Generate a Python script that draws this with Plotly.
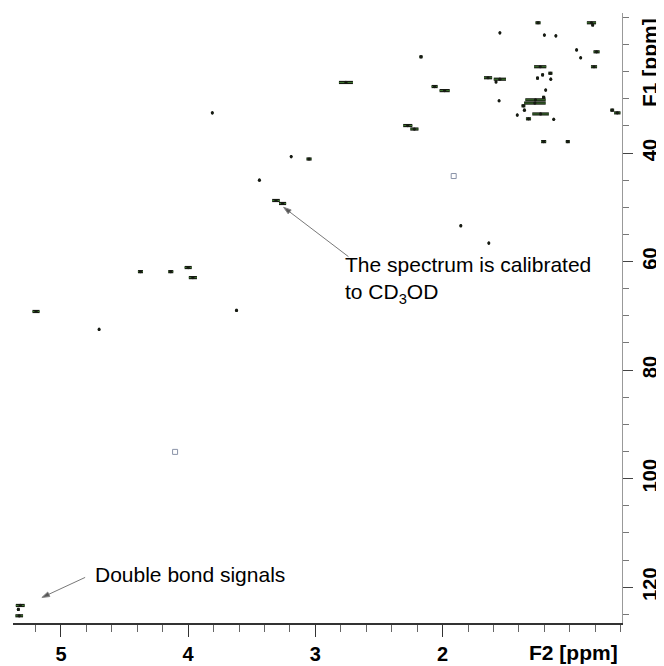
import plotly.graph_objects as go

# HSQC cross peaks: F2 (1H, ppm), F1 (13C, ppm), half-width along F2 (ppm)
peak_f2 = [1.25, 0.83, 0.82, 1.55, 1.20, 1.11, 0.947, 0.79, 0.915, 2.17,
           1.233, 0.81, 1.153, 1.214, 1.254, 1.15, 1.643, 1.55, 1.58, 2.76,
           2.063, 1.984, 1.19, 1.556, 1.27, 1.275, 1.206, 1.365, 1.357, 1.413,
           1.23, 1.325, 1.127, 0.667, 0.627, 1.206, 1.016, 2.274, 2.222, 3.81,
           3.19, 3.05, 3.44, 3.31, 3.258, 1.857, 1.637, 4.375, 4.137, 4.0,
           3.963, 5.196, 4.70, 3.62, 5.32, 5.335, 5.328]
peak_f1 = [16.0, 16.0, 16.4, 17.85, 18.27, 18.4, 21.0, 21.35, 22.45, 22.27,
           24.1, 24.1, 25.3, 25.6, 26.2, 26.4, 26.13, 26.4, 26.9, 27.0,
           27.75, 28.5, 28.4, 30.37, 30.2, 30.8, 29.74, 31.3, 32.1, 33.0,
           32.8, 33.7, 33.8, 32.1, 32.6, 37.9, 37.9, 34.94, 35.58, 32.6,
           40.65, 41.1, 45.0, 48.75, 49.3, 53.4, 56.6, 61.86, 61.86, 61.1,
           62.96, 69.2, 72.5, 69.0, 123.37, 124.1, 125.27]
peak_hw = [0.02, 0.036, 0.01, 0.005, 0.006, 0.006, 0.006, 0.024, 0.006, 0.012,
           0.048, 0.024, 0.016, 0.01, 0.01, 0.006, 0.032, 0.048, 0.006, 0.055,
           0.024, 0.04, 0.006, 0.006, 0.08, 0.085, 0.012, 0.015, 0.008, 0.006,
           0.065, 0.02, 0.006, 0.015, 0.025, 0.02, 0.016, 0.036, 0.032, 0.006,
           0.006, 0.02, 0.006, 0.03, 0.028, 0.008, 0.006, 0.02, 0.02, 0.028,
           0.032, 0.028, 0.006, 0.008, 0.035, 0.01, 0.03]

# weak artefacts drawn as open squares
art_f2 = [1.913, 4.103]
art_f1 = [44.24, 95.07]

x_ticks = [2, 3, 4, 5]
x_labels = ["2", "3", "4", "5"]
y_ticks = [40, 60, 80, 100, 120]
y_labels = ["40", "60", "80", "100", "120"]

# annotation arrows: tail -> head (ppm)
arrow1_f2 = [2.74, 3.25]
arrow1_f1 = [59.1, 50.0]
arrow2_f2 = [4.81, 5.15]
arrow2_f1 = [118.2, 121.9]

seg_x, seg_y = [], []
for xc, yc, hw in zip(peak_f2, peak_f1, peak_hw):
    seg_x += [xc - hw, xc + hw, None]
    seg_y += [yc, yc, None]

fig = go.Figure()
fig.add_trace(go.Scatter(x=seg_x, y=seg_y, mode="lines",
                         line=dict(color="#161a12", width=3.2),
                         hoverinfo="skip", showlegend=False))
fig.add_trace(go.Scatter(x=seg_x, y=seg_y, mode="lines",
                         line=dict(color="#3f7a30", width=1.0),
                         hoverinfo="skip", showlegend=False))
fig.add_trace(go.Scatter(x=peak_f2, y=peak_f1, mode="markers",
                         marker=dict(color="#161a12", size=3.2),
                         hoverinfo="skip", showlegend=False))
fig.add_trace(go.Scatter(x=art_f2, y=art_f1, mode="markers",
                         marker=dict(symbol="square-open", color="#8a93a8", size=5,
                                     line=dict(width=1)),
                         hoverinfo="skip", showlegend=False))
for ax_, ay_ in [(arrow1_f2, arrow1_f1), (arrow2_f2, arrow2_f1)]:
    fig.add_trace(go.Scatter(x=ax_, y=ay_, mode="lines+markers",
                             line=dict(color="#555", width=0.8),
                             marker=dict(symbol="arrow", size=[0, 8], color="#111",
                                         angleref="previous"),
                             hoverinfo="skip", showlegend=False))

tickfont = dict(family="Arial, Liberation Sans", size=20, color="black", weight="bold")
titlefont = dict(family="Arial, Liberation Sans", size=21, color="black", weight="bold")
txtfont = dict(family="Arial, Liberation Sans", size=21, color="black")

# the page body adds an 8px offset, so the figure is 8px smaller with 8px less margin
fig.update_layout(
    width=656, height=658,
    margin=dict(l=5, r=42, t=5, b=43),
    paper_bgcolor="white", plot_bgcolor="white",
    xaxis=dict(range=[5.377, 0.59], tickvals=x_ticks, ticktext=x_labels,
               automargin=False,
               ticks="outside", ticklen=12, tickwidth=1, tickcolor="#333",
               showline=True, linecolor="#333", linewidth=1.5,
               showgrid=False, zeroline=False, tickfont=tickfont,
               minor=dict(dtick=0.2, tick0=0, ticks="outside", ticklen=7,
                          tickcolor="#666", tickwidth=1)),
    yaxis=dict(range=[126.6, 14.2], side="right", tickvals=y_ticks, ticktext=y_labels,
               automargin=False,
               tickangle=-90, ticks="outside", ticklen=10, tickwidth=1,
               tickcolor="#444", showline=True, linecolor="#999", linewidth=1,
               showgrid=False, zeroline=False, tickfont=tickfont,
               minor=dict(dtick=5, tick0=0, ticks="outside", ticklen=6,
                          tickcolor="#777", tickwidth=1)),
)

# axis titles
fig.add_annotation(text="F2 [ppm]", xref="paper", yref="paper", x=1.0, y=0,
                   xanchor="right", yanchor="top", yshift=-16, xshift=-2,
                   showarrow=False, font=titlefont)
fig.add_annotation(text="F1 [ppm]", xref="paper", yref="paper", x=1.0, y=1.0,
                   xanchor="left", yanchor="top", xshift=14, yshift=-3,
                   textangle=-90, showarrow=False, font=titlefont)

# texts
fig.add_annotation(text="The spectrum is calibrated<br>to CD<sub>3</sub>OD",
                   x=2.78, y=63.4, xanchor="left", yanchor="middle", align="left",
                   showarrow=False, font=txtfont)
fig.add_annotation(text="Double bond signals", x=4.75, y=117.7,
                   xanchor="left", yanchor="middle", align="left",
                   showarrow=False, font=txtfont)

fig.write_html("out.html")
